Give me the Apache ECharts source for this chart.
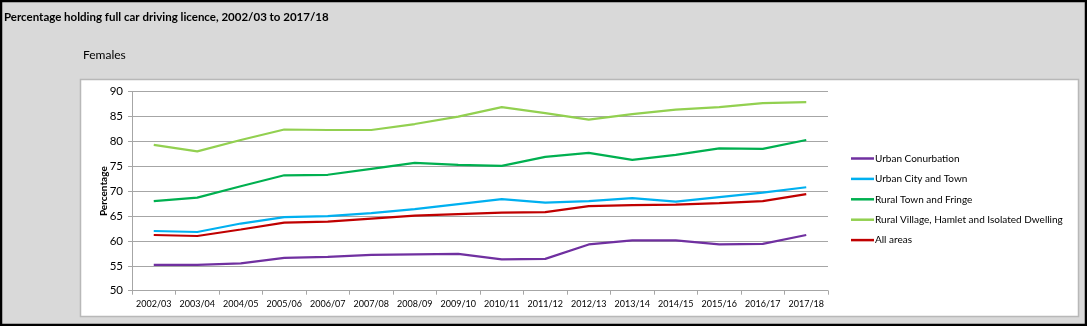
<!DOCTYPE html>
<html>
<head>
<meta charset="utf-8">
<script src="https://cdn.jsdelivr.net/npm/echarts@6/dist/echarts.min.js"></script>
<style>
html,body{margin:0;padding:0;background:#d9d9d9;}
#c{width:1087px;height:326px;}
</style>
</head>
<body>
<div id="c"></div>
<script>
const categories = ["2002/03","2003/04","2004/05","2005/06","2006/07","2007/08","2008/09","2009/10","2010/11","2011/12","2012/13","2013/14","2014/15","2015/16","2016/17","2017/18"];
const urbanConurbation = [55.2,55.2,55.5,56.6,56.8,57.2,57.3,57.4,56.3,56.4,59.3,60.1,60.1,59.3,59.4,61.2];
const urbanCityTown = [62.0,61.8,63.5,64.8,65.0,65.6,66.4,67.4,68.4,67.7,68.0,68.6,67.9,68.8,69.7,70.8];
const ruralTownFringe = [68.0,68.7,71.0,73.2,73.3,74.5,75.7,75.3,75.1,76.9,77.7,76.3,77.3,78.6,78.5,80.3];
const ruralVillage = [79.3,78.0,80.3,82.4,82.3,82.3,83.5,85.0,86.9,85.7,84.4,85.5,86.4,86.9,87.7,87.9];
const allAreas = [61.2,61.0,62.3,63.7,63.9,64.5,65.1,65.4,65.7,65.8,67.0,67.2,67.3,67.6,68.0,69.4];
const seriesNames = ["Urban Conurbation","Urban City and Town","Rural Town and Fringe","Rural Village, Hamlet and Isolated Dwelling","All areas"];
const seriesColors = ["#7030a0","#00b0f0","#00b050","#92d050","#c00000"];
const seriesData = [urbanConurbation, urbanCityTown, ruralTownFringe, ruralVillage, allAreas];
const yTicks = {min:50, max:90, interval:5};

const FONT = 'Lato, "Open Sans", sans-serif';
const chart = echarts.init(document.getElementById('c'), null, {renderer:'canvas'});
chart.setOption({
  backgroundColor:'#d9d9d9',
  animation:false,
  textStyle:{fontFamily:FONT},
  graphic:[
    {type:'rect', z:-5, shape:{x:1,y:1,width:1085,height:324}, style:{fill:'#d9d9d9', stroke:'#000', lineWidth:2.5}},
    {type:'rect', z:-4, shape:{x:80.5,y:79.5,width:998,height:237}, style:{fill:'#fff', stroke:'#b8b8b8', lineWidth:1.5}},
    {type:'text', z:5, left:4, top:11, style:{text:'Percentage holding full car driving licence, 2002/03 to 2017/18', fontFamily:FONT, fontWeight:'bold', fontSize:11.5, fill:'#000'}},
    {type:'text', z:5, left:83, top:49, style:{text:'Females', fontFamily:FONT, fontSize:12, fill:'#000'}}
  ],
  grid:{left:132, right:259, top:91.7, bottom:35.3, containLabel:false},
  legend:{
    orient:'vertical', left:846, top:147, itemWidth:23, itemHeight:2.5, itemGap:7.4,
    icon:'rect',
    textStyle:{fontFamily:FONT, fontSize:10, color:'#000', padding:[0,0,0,-4], lineHeight:13},
    data:seriesNames
  },
  xAxis:{
    type:'category', data:categories, boundaryGap:true,
    axisLine:{lineStyle:{color:'#a6a6a6', width:1}},
    axisTick:{show:true, interval:0, length:4, lineStyle:{color:'#a6a6a6'}},
    axisLabel:{interval:0, fontSize:9, color:'#000', margin:9, fontFamily:FONT}
  },
  yAxis:{
    type:'value', min:yTicks.min, max:yTicks.max, interval:yTicks.interval,
    name:'Percentage', nameLocation:'middle', nameGap:23, nameMoveOverlap:false,
    nameTextStyle:{fontFamily:FONT, fontWeight:'bold', fontSize:10, color:'#000'},
    axisLine:{show:true, lineStyle:{color:'#a6a6a6', width:1}},
    axisTick:{show:true, length:4, lineStyle:{color:'#a6a6a6'}},
    axisLabel:{fontSize:11.5, color:'#000', margin:9, fontFamily:FONT},
    splitLine:{show:true, lineStyle:{color:'#a6a6a6', width:1}}
  },
  series: seriesNames.map((n,i)=>({
    name:n, type:'line', data:seriesData[i], symbol:'none', smooth:false,
    lineStyle:{color:seriesColors[i], width:2.2}, itemStyle:{color:seriesColors[i]}
  }))
});
</script>
</body>
</html>
